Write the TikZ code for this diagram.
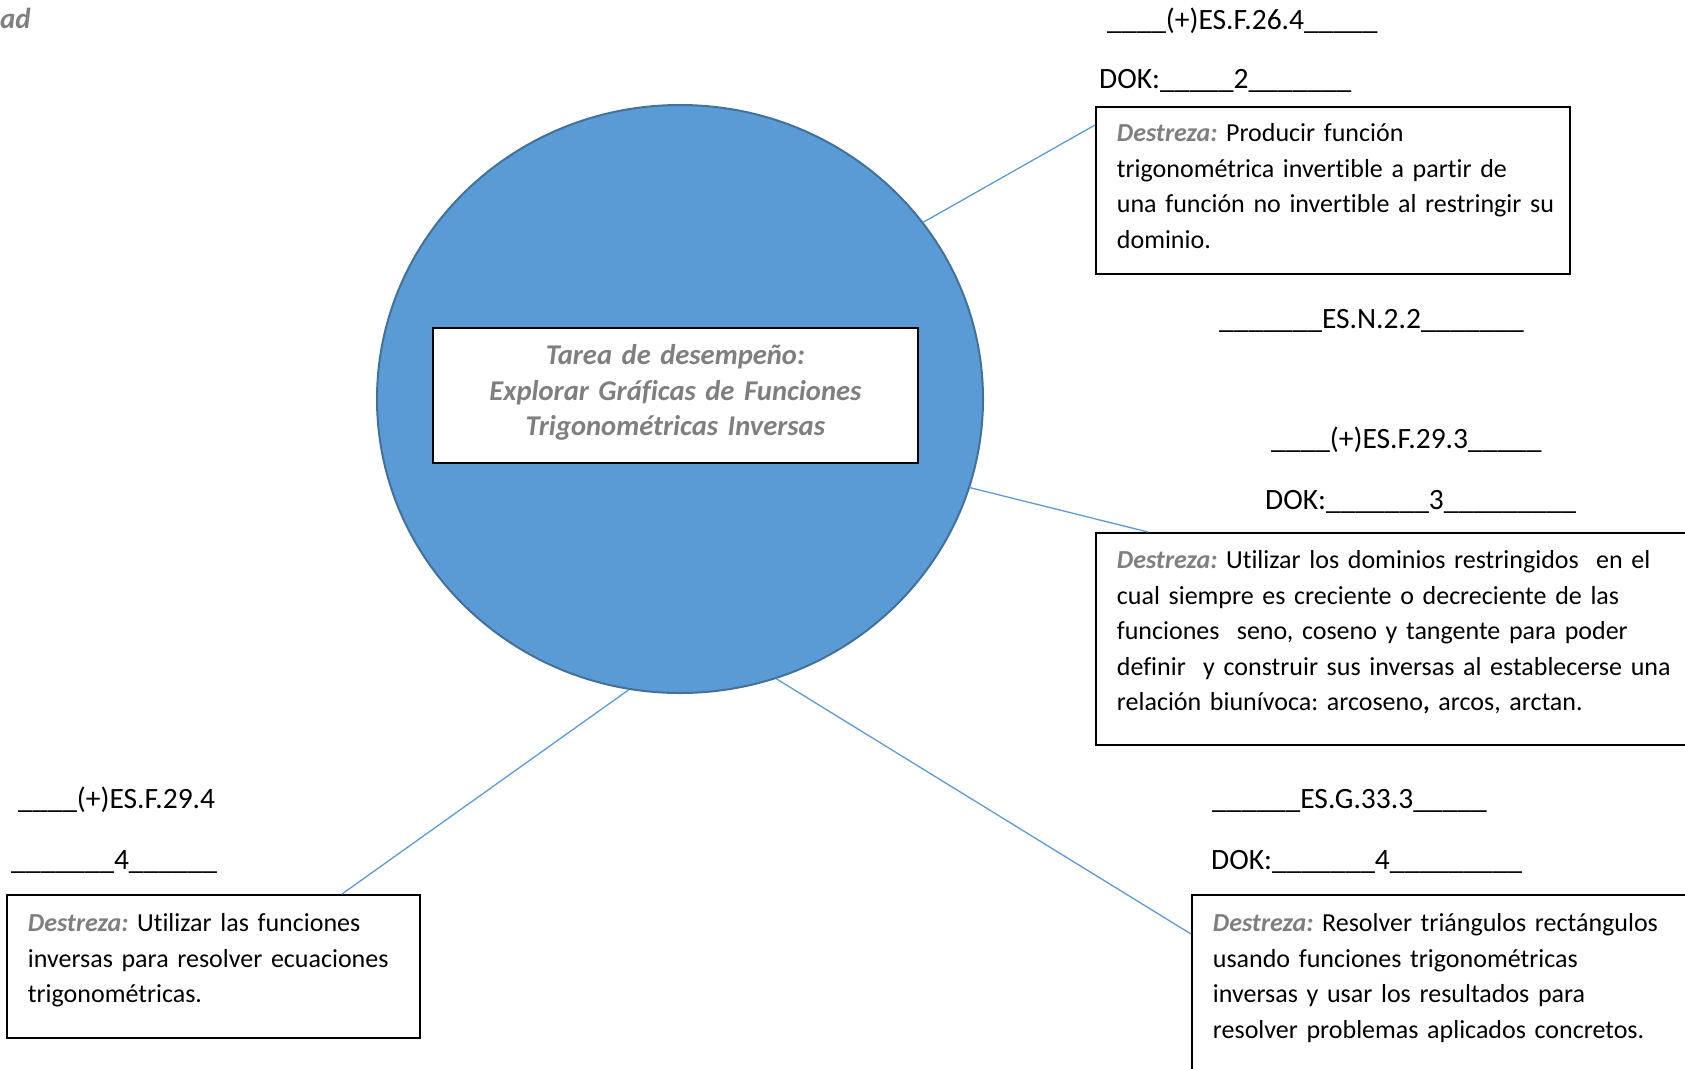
\documentclass[tikz,border=0pt]{standalone}
\usepackage{fontspec}
\setmainfont{Carlito}[Ligatures={NoCommon,NoContextual}]
\usepackage{tikz}
\usetikzlibrary{shapes.geometric, calc}
\usepackage{xcolor}
\definecolor{azulcirculo}{RGB}{91,155,213}
\definecolor{bordecirculo}{RGB}{65,113,156}
\definecolor{grisdestreza}{RGB}{127,127,127}
\newcommand{\destreza}{{\color{grisdestreza}\bfseries\itshape Destreza:}}
\frenchspacing
\tikzset{
    caja/.style={draw=black, fill=white, line width=1.8pt, inner xsep=21pt, inner ysep=0pt,
        anchor=north west, align=left, font=\fontsize{26}{35.5}\selectfont\frenchspacing},
    etiqueta/.style={inner sep=0pt, anchor=base west, font=\fontsize{29.5}{35.5}\selectfont},
    conector/.style={draw=azulcirculo, line width=1.3pt},
    tarea/.style={ellipse, fill=azulcirculo, draw=bordecirculo, line width=2pt,
        minimum width=606pt, minimum height=588pt}
}

\begin{document}
\begin{tikzpicture}[x=1pt, y=-1pt]
    \useasboundingbox (0,0) rectangle (1685,1068);
    \clip (0,0) rectangle (1685,1068);
    \node[inner sep=0pt, anchor=base east, text=grisdestreza, font=\fontsize{29}{35.5}\selectfont\bfseries\itshape] (titulo) at (31,28) {ad};
    \node[tarea] (circulo) at (680,399) {};
    \node[caja, align=center, inner xsep=10pt, text width=465pt, text height=37pt, text depth=98pt,
        text=grisdestreza, font=\fontsize{28.6}{35.5}\selectfont\bfseries\itshape] (central) at (432,327)
        {Tarea de desempeño:\\ Explorar Gráficas de Funciones\\ Trigonométricas Inversas};
    \node[caja, text width=432pt, text height=35pt, text depth=132pt] (dest1) at (1095,106)
        {\destreza{} Producir función\\ trigonométrica invertible a partir de\\ \mbox{una función no invertible al restringir su}\\ dominio.};
    \node[caja, text width=578pt, text height=36pt, text depth=176pt] (dest2) at (1095,532)
        {\destreza{} Utilizar los dominios restringidos\ \ en el\\ cual siempre es creciente o decreciente de las\\ funciones\ \ seno, coseno y tangente para poder\\ definir\ \ y construir sus inversas al establecerse una\\ relación biunívoca: arcoseno{\bfseries,} arcos, arctan.};
    \node[caja, text width=371pt, text height=37pt, text depth=106pt] (dest3) at (6,894)
        {\destreza{} Utilizar las funciones\\ inversas para resolver ecuaciones\\ trigonométricas.};
    \node[caja, text width=478pt, text height=37pt, text depth=200pt] (dest4) at (1191,894)
        {\destreza{} Resolver triángulos rectángulos\\ usando funciones trigonométricas\\ inversas y usar los resultados para\\ resolver problemas aplicados concretos.};
    \draw[conector] (circulo.36.6) -- ($(dest1.north west)+(0,19)$);
    \draw[conector] (circulo.-17.9) -- ($(dest2.north west)+(53,0)$);
    \draw[conector] (circulo.260.2) -- ($(dest3.north west)+(336,0)$);
    \draw[conector] (circulo.-71.8) -- ($(dest4.north west)+(0,40)$);
    \node[etiqueta] (codigo1) at (1107,29) {\_\_\_\_(+)ES.F.26.4\_\_\_\_\_};
    \node[etiqueta] (dok1) at (1099,88) {DOK:\_\_\_\_\_2\_\_\_\_\_\_\_};
    \node[etiqueta] (codigo2) at (1219,328) {\_\_\_\_\_\_\_ES.N.2.2\_\_\_\_\_\_\_};
    \node[etiqueta] (codigo3) at (1271,448) {\_\_\_\_(+)ES.F.29.3\_\_\_\_\_};
    \node[etiqueta] (dok3) at (1265,509) {DOK:\_\_\_\_\_\_\_3\_\_\_\_\_\_\_\_\_};
    \node[etiqueta] (codigo4) at (18,808) {\_\_\_\_(+)ES.F.29.4};
    \node[etiqueta] (dok4) at (11,869) {\_\_\_\_\_\_\_4\_\_\_\_\_\_};
    \node[etiqueta] (codigo5) at (1212,808) {\_\_\_\_\_\_ES.G.33.3\_\_\_\_\_};
    \node[etiqueta] (dok5) at (1211,869) {DOK:\_\_\_\_\_\_\_4\_\_\_\_\_\_\_\_\_};
\end{tikzpicture}
\end{document}
